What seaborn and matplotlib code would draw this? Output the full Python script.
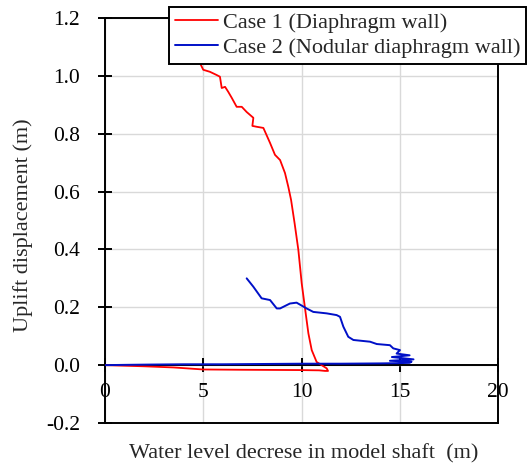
import numpy as np
import matplotlib
matplotlib.use('Agg')
import matplotlib.pyplot as plt
import seaborn as sns

# Case 1 (Diaphragm wall): water level decrease (m) vs uplift (m)
case1_x = [0.0, 0.5, 2.0, 3.5, 5.0, 7.0, 9.9, 10.9, 11.2, 11.35, 11.28, 10.77,
           10.52, 10.35, 10.18, 10.01, 9.84, 9.65, 9.47, 9.33, 9.16, 8.91, 8.65,
           8.40, 8.06, 7.72, 7.50, 7.55, 7.21, 6.96, 6.70, 6.45, 6.27, 6.11,
           5.94, 5.85, 5.68, 5.34, 5.00, 4.83, 4.5]
case1_y = [0.0, -0.001, -0.004, -0.008, -0.015, -0.016, -0.017, -0.018, -0.020,
           -0.020, -0.011, 0.011, 0.052, 0.110, 0.196, 0.283, 0.398, 0.49,
           0.571, 0.616, 0.664, 0.709, 0.727, 0.768, 0.820, 0.824, 0.827,
           0.855, 0.875, 0.893, 0.893, 0.924, 0.945, 0.962, 0.958, 0.997,
           1.003, 1.014, 1.021, 1.045, 1.10]

# Case 2 (Nodular diaphragm wall)
case2_x = [0.0, 1.0, 2.3, 4.0, 6.0, 8.0, 10.0, 12.0, 14.0, 15.0, 15.5, 15.6,
           14.5, 15.7, 14.6, 15.5, 14.84, 15.01, 14.67, 14.50, 13.83, 13.49,
           12.64, 12.38, 12.13, 11.96, 11.79, 11.28, 10.60, 10.26, 9.75,
           9.41, 8.91, 8.74, 8.40, 7.97, 7.55, 7.21]
case2_y = [0.0, 0.001, 0.002, 0.003, 0.003, 0.004, 0.005, 0.005, 0.006, 0.007,
           0.008, 0.012, 0.015, 0.02, 0.028, 0.034, 0.040, 0.052, 0.058,
           0.069, 0.073, 0.081, 0.087, 0.098, 0.133, 0.167, 0.173, 0.179,
           0.184, 0.196, 0.216, 0.213, 0.196, 0.196, 0.225, 0.231, 0.271,
           0.300]

x_ticks = [0, 5, 10, 15, 20]
y_ticks = [-0.2, 0.0, 0.2, 0.4, 0.6, 0.8, 1.0, 1.2]

sns.set_style('white')
plt.rcParams['font.family'] = ['Liberation Serif', 'DejaVu Serif']
plt.rcParams['axes.unicode_minus'] = False

fig = plt.figure(figsize=(5.27, 4.68), dpi=100)
ax = fig.add_axes([105 / 527, 1 - 423 / 468, 393 / 527, 405 / 468])

sns.lineplot(x=case1_x, y=case1_y, sort=False, estimator=None, color='#ff0000',
             lw=1.3, ax=ax, label='Case 1 (Diaphragm wall)', legend=False, zorder=4)
sns.lineplot(x=case2_x, y=case2_y, sort=False, estimator=None, color='#0010c8',
             lw=1.4, ax=ax, label='Case 2 (Nodular diaphragm wall)', legend=False,
             zorder=5)

ax.set_xlim(0, 20)
ax.set_ylim(-0.2, 1.2)
ax.set_xticks(x_ticks)
ax.set_yticks(y_ticks)
ax.set_yticklabels([f'{v:.1f}' for v in y_ticks])
ax.grid(True, color='#d9d9d9', lw=1.0)
ax.set_axisbelow(True)

for s in ax.spines.values():
    s.set_color('black')
    s.set_linewidth(1.4)
ax.spines['bottom'].set_position(('data', 0))
ax.plot([0, 1], [0, 0], transform=ax.transAxes, color='black', lw=1.4, clip_on=False)

ax.tick_params(axis='both', direction='inout', length=10, width=1.4,
               color='black', labelsize=15.5, labelcolor='black')
ax.tick_params(axis='x', pad=8, bottom=True)
ax.tick_params(axis='y', pad=13, left=True)

ax.set_xlabel('Water level decrese in model shaft  (m)', fontsize=16)
ax.xaxis.set_label_coords(0.506, -0.052)
ax.set_ylabel('Uplift displacement (m)', fontsize=16)
ax.yaxis.set_label_coords(-0.183, 0.489)

handles, labels = ax.get_legend_handles_labels()
leg = fig.legend(handles, labels, loc='upper right',
                 bbox_to_anchor=(526 / 527, 1 - 7 / 468), fontsize=16,
                 frameon=True, fancybox=False, framealpha=1, edgecolor='black',
                 handlelength=1.94, handletextpad=0.23, borderpad=0.25,
                 labelspacing=0.2, borderaxespad=0)
leg.get_frame().set_linewidth(1.4)

fig.savefig('out.png', dpi=100)
